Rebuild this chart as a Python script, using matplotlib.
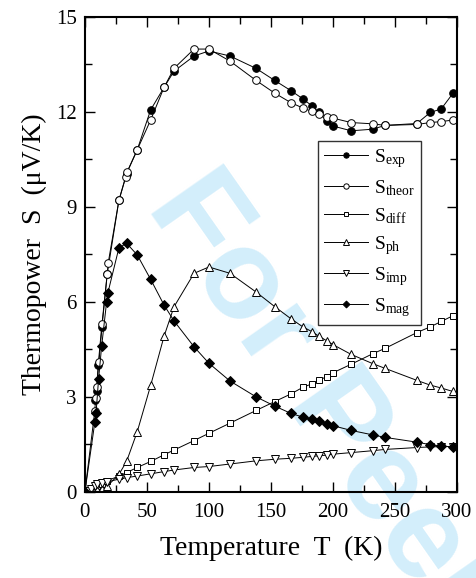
import matplotlib
matplotlib.use('Agg')
import matplotlib.pyplot as plt
from matplotlib.ticker import MultipleLocator

plt.rcParams['font.family'] = ['Liberation Serif', 'DejaVu Serif']
plt.rcParams['mathtext.fontset'] = 'custom'
plt.rcParams['mathtext.rm'] = 'Liberation Serif'
plt.rcParams['mathtext.it'] = 'Liberation Serif:italic'

# temperatures shared by most points above 40 K
T_high = [42.2, 53, 63.8, 71.8, 88, 100, 117, 138, 153, 166, 175.7, 183,
          188.5, 195, 200, 214.7, 232, 242, 267.7, 278.5, 287.3, 296.7]

T_exp = [8, 9.5, 10.7, 13.5, 18, 27.4, 33.6] + T_high
S_exp = [2.9, 3.2, 4.0, 5.2, 6.88, 9.2, 10.05,
         10.8, 12.06, 12.77, 13.28, 13.76, 13.92, 13.76, 13.37, 12.99, 12.67,
         12.41, 12.19, 11.98, 11.71, 11.55, 11.40, 11.45, 11.57, 11.63, 11.98,
         12.09, 12.58]

T_theor = [0, 8, 8.6, 9.4, 11.3, 14, 18, 18.8, 27.4, 33, 34] + T_high
S_theor = [0, 2.56, 2.95, 3.3, 4.1, 5.3, 6.88, 7.23, 9.2, 9.95, 10.1,
           10.8, 11.74, 12.77, 13.37, 13.98, 13.98, 13.6, 12.99, 12.59, 12.29,
           12.12, 12.01, 11.94, 11.83, 11.80, 11.66, 11.62, 11.57, 11.6, 11.66,
           11.69, 11.74]

T_low = [3, 5, 8, 10, 13.5, 18, 27.4, 33.6]
T_model = T_low + T_high
S_diff = [0.02, 0.06, 0.12, 0.18, 0.25, 0.35, 0.5, 0.61,
          0.77, 0.96, 1.17, 1.32, 1.62, 1.85, 2.17, 2.57, 2.85, 3.09, 3.3,
          3.41, 3.52, 3.64, 3.76, 4.03, 4.36, 4.53, 5.03, 5.21, 5.38, 5.56]
S_ph = [0, 0.01, 0.03, 0.06, 0.1, 0.18, 0.55, 0.96,
        1.9, 3.36, 4.91, 5.84, 6.9, 7.1, 6.9, 6.31, 5.85, 5.47, 5.21,
        5.06, 4.92, 4.77, 4.65, 4.34, 4.05, 3.9, 3.52, 3.37, 3.28, 3.17]
S_imp = [0.03, 0.1, 0.2, 0.24, 0.28, 0.32, 0.4, 0.45,
         0.5, 0.57, 0.64, 0.69, 0.77, 0.8, 0.88, 0.98, 1.03, 1.06, 1.09,
         1.12, 1.14, 1.16, 1.19, 1.24, 1.30, 1.34, 1.40, 1.42, 1.43, 1.43]

T_mag = [0, 8, 9, 11, 13.5, 17.5, 18.5, 27.4, 33.6] + T_high
S_mag = [0, 2.2, 2.5, 3.55, 4.6, 6.0, 6.28, 7.7, 7.85,
         7.48, 6.71, 5.9, 5.4, 4.58, 4.06, 3.5, 3.0, 2.71, 2.48, 2.36,
         2.29, 2.23, 2.15, 2.09, 1.94, 1.80, 1.72, 1.57, 1.49, 1.45, 1.42]

fig = plt.figure(figsize=(4.77, 5.78), dpi=100)
ax = fig.add_axes([0.178, 0.149, 0.780, 0.822])
ax.set_facecolor('none')

# watermark behind the axes (runs off the page like the original)
fig.text(0.305, 0.642, 'For Peer Review', family='Liberation Sans',
         fontweight='bold', fontsize=92, color='#d3eefb', rotation=-55,
         rotation_mode='anchor', ha='left', va='baseline', zorder=-1)

line_kw = dict(color='black', lw=0.7, mew=0.7, mec='black')
ax.plot(T_exp, S_exp, marker='o', ms=5.5, mfc='black',
        label=r'S$_{\mathrm{exp}}$', **line_kw)
ax.plot(T_theor, S_theor, marker='o', ms=5.5, mfc='white',
        label=r'S$_{\mathrm{theor}}$', **line_kw)
ax.plot(T_model, S_diff, marker='s', ms=5, mfc='white',
        label=r'S$_{\mathrm{diff}}$', **line_kw)
ax.plot(T_model, S_ph, marker='^', ms=6, mfc='white',
        label=r'S$_{\mathrm{ph}}$', **line_kw)
ax.plot(T_model, S_imp, marker='v', ms=6, mfc='white',
        label=r'S$_{\mathrm{imp}}$', **line_kw)
ax.plot(T_mag, S_mag, marker='D', ms=5, mfc='black',
        label=r'S$_{\mathrm{mag}}$', **line_kw)

ax.set_xlim(0, 300)
ax.set_ylim(0, 15)
ax.xaxis.set_major_locator(MultipleLocator(50))
ax.xaxis.set_minor_locator(MultipleLocator(25))
ax.yaxis.set_major_locator(MultipleLocator(3))
ax.yaxis.set_minor_locator(MultipleLocator(1.5))
ax.tick_params(which='both', direction='in', top=True, right=True,
               labelsize=15, width=1.0)
ax.tick_params(which='major', length=7)
ax.tick_params(which='minor', length=5)
ax.tick_params(axis='x', pad=8)
ax.tick_params(axis='y', pad=6)
for sp in ax.spines.values():
    sp.set_linewidth(1.5)

ax.set_xlabel('Temperature  T  (K)', fontsize=20, labelpad=10)
ax.set_ylabel('Thermopower  S  (\u03bcV/K)', fontsize=20, labelpad=6)

leg = ax.legend(loc='upper left', bbox_to_anchor=(0.626, 0.738),
                fontsize=14, markerscale=0.7, handlelength=2.3,
                handletextpad=0.3, labelspacing=0.42, borderpad=0.3,
                borderaxespad=0, fancybox=False, framealpha=1)
leg.get_frame().set_edgecolor('#333333')
leg.get_frame().set_linewidth(1.0)

fig.savefig('out.png', dpi=100)
